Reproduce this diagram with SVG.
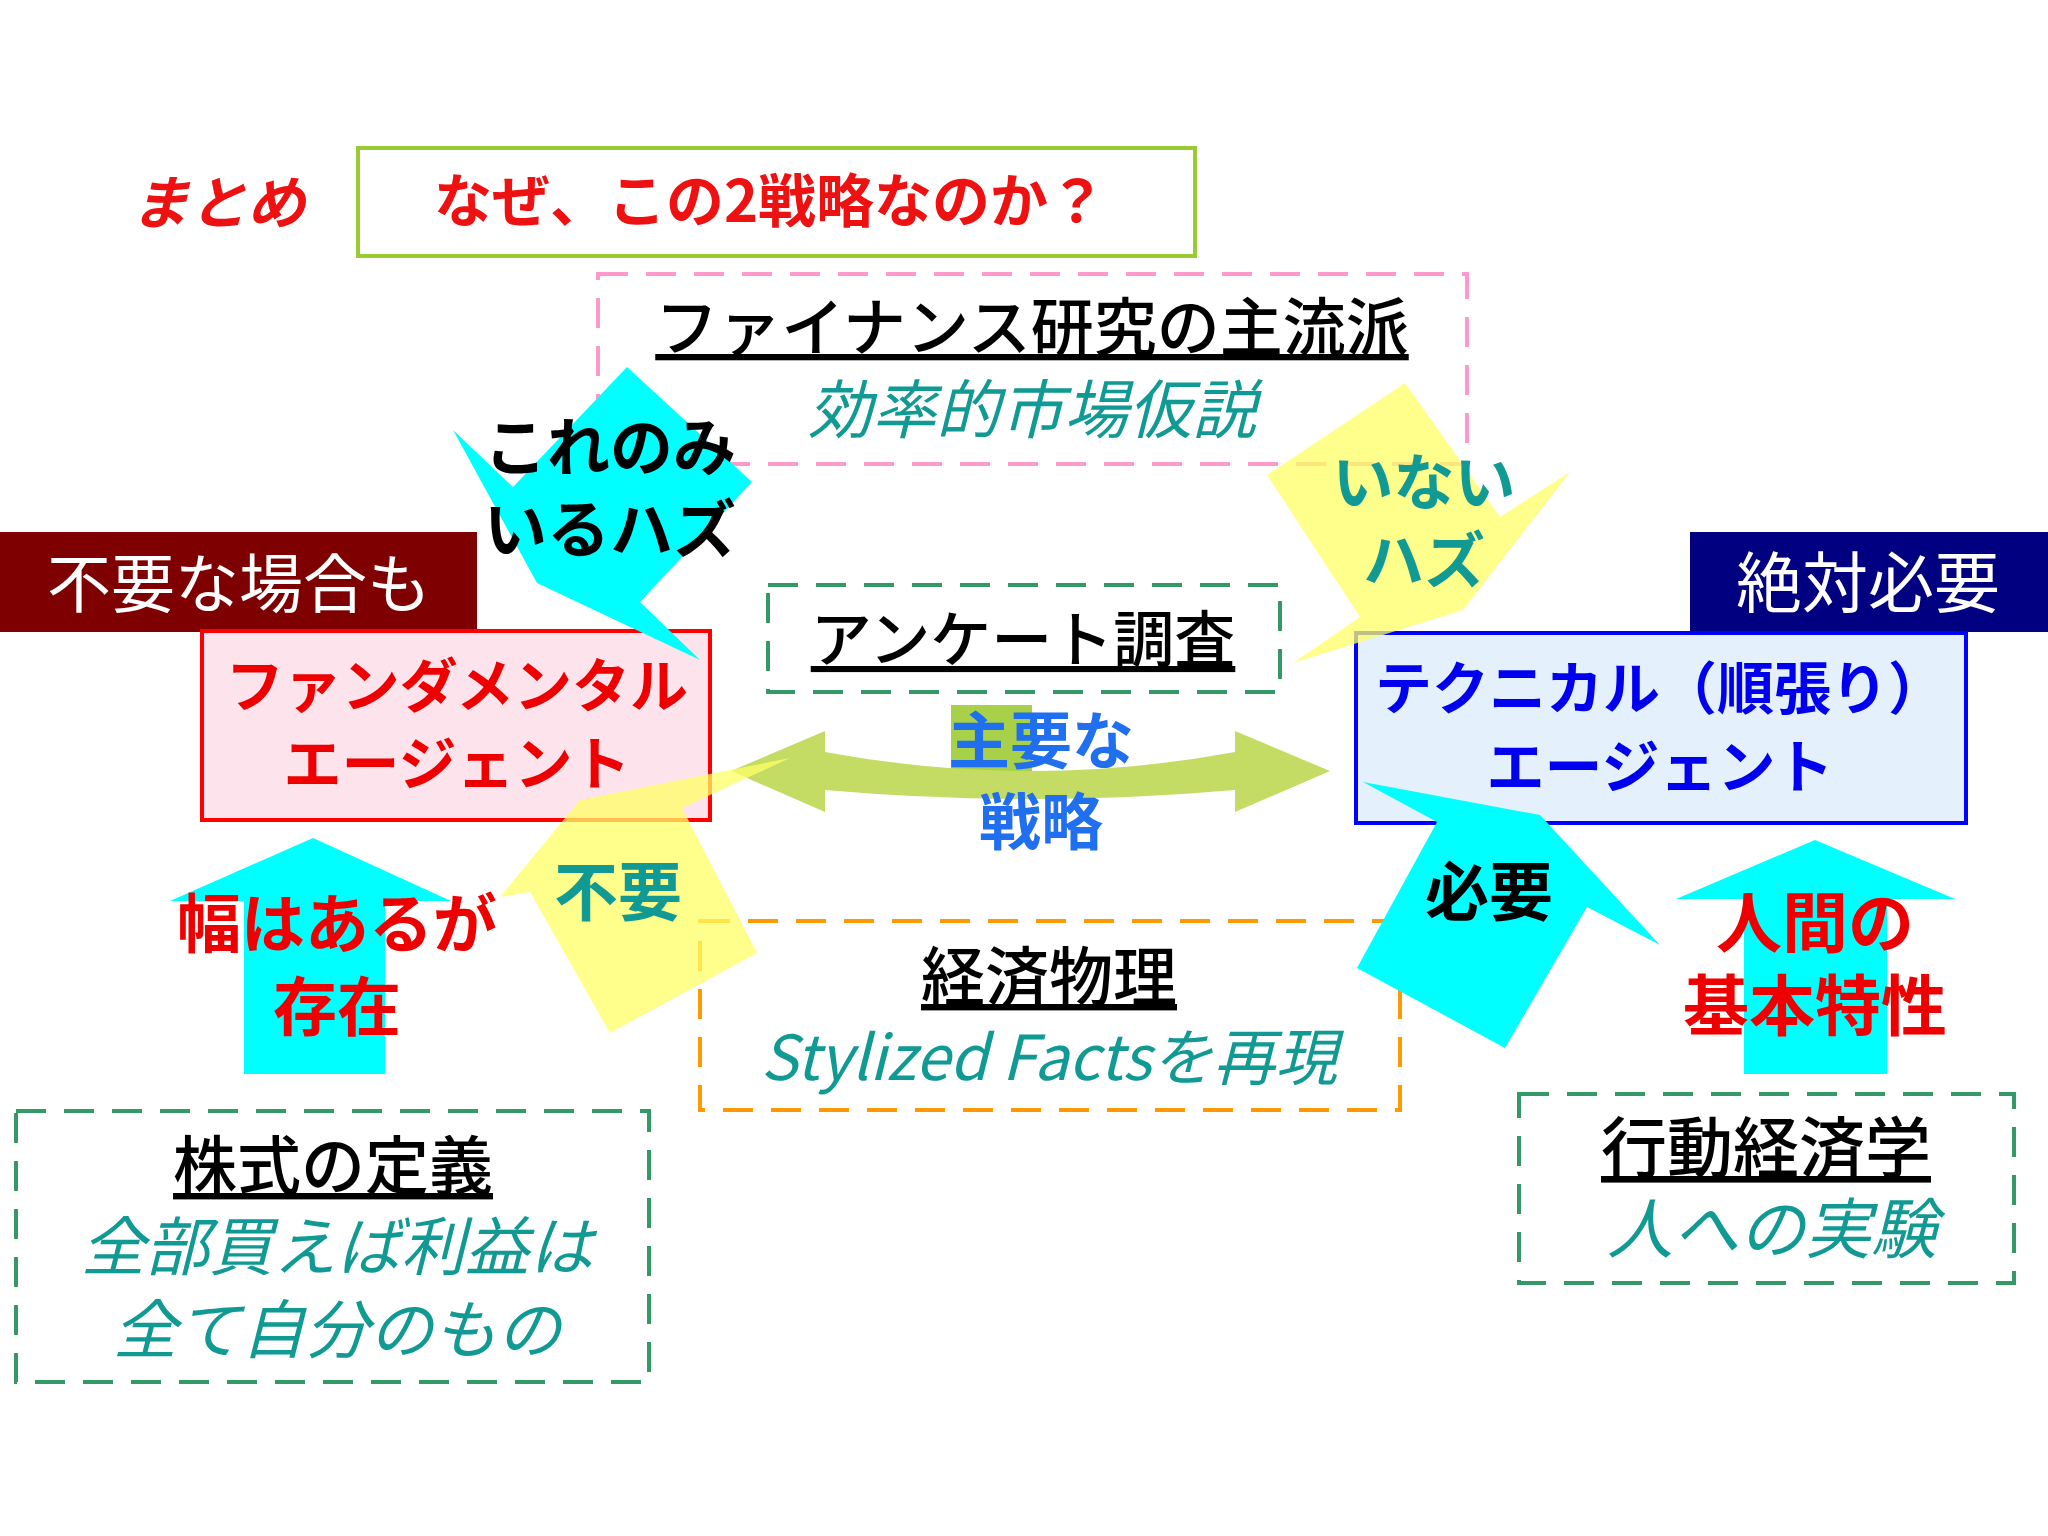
<svg xmlns="http://www.w3.org/2000/svg" width="2048" height="1536" viewBox="0 0 2048 1536">
<style>
text{font-family:"Noto Sans CJK JP","Noto Sans",sans-serif;text-anchor:middle}
.b{font-weight:bold}
.it{font-style:italic}
.u{text-decoration:underline}
.dash{fill:none;stroke-width:4;stroke-dasharray:30 18}
.teal{fill:#119a94}
</style>
<rect width="2048" height="1536" fill="#ffffff"/>
<g id="title">
<text x="218" y="224" font-size="58" class="b it" fill="#ee1111">まとめ</text>
<rect x="358" y="148" width="837" height="108" fill="none" stroke="#99cc33" stroke-width="4"/>
<text x="770" y="222" font-size="58" class="b" fill="#ee1111">なぜ、この2戦略なのか？</text>
</g>
<g id="finance">
<rect x="598" y="274" width="869" height="190" class="dash" stroke="#ff99cc"/>
<text x="1032" y="350" font-size="63" class="u" font-weight="500" fill="#000">ファイナンス研究の主流派</text>
<text x="1032" y="433" font-size="64" class="it teal">効率的市場仮説</text>
</g>
<g id="enquete">
<rect x="768" y="585" width="512" height="107" class="dash" stroke="#339966"/>
<text x="1023" y="662" font-size="61" class="u" font-weight="500" fill="#000">アンケート調査</text>
</g>
<g id="econophysics">
<rect x="700" y="921" width="700" height="189" class="dash" stroke="#ff9900"/>
<text x="1049" y="1000" font-size="64" class="u" font-weight="500" fill="#000">経済物理</text>
<text x="1049" y="1080" font-size="62" class="it teal">Stylized Factsを再現</text>
</g>
<g id="stock">
<rect x="16" y="1111" width="633" height="271" class="dash" stroke="#339966"/>
<text x="333" y="1189" font-size="64" class="u" font-weight="500" fill="#000">株式の定義</text>
<text x="337" y="1270" font-size="64" class="it teal">全部買えば利益は</text>
<text x="337" y="1353" font-size="64" class="it teal">全て自分のもの</text>
</g>
<g id="behavioral">
<rect x="1519" y="1094" width="495" height="189" class="dash" stroke="#339966"/>
<text x="1766" y="1172" font-size="66" class="u" font-weight="500" fill="#000">行動経済学</text>
<text x="1772" y="1253" font-size="66" class="it teal">人への実験</text>
</g>
<g id="fundamental">
<rect x="0" y="532" width="477" height="100" fill="#7f0000"/>
<text x="239" y="607" font-size="64" fill="#fff">不要な場合も</text>
<rect x="202" y="631" width="508" height="189" fill="#fde4ec" stroke="#ff0000" stroke-width="4"/>
<text x="457" y="707" font-size="58" class="b" fill="#ee0000">ファンダメンタル</text>
<text x="457" y="785" font-size="58" class="b" fill="#ee0000">エージェント</text>
</g>
<g id="technical">
<rect x="1690" y="532" width="358" height="100" fill="#000080"/>
<text x="1868" y="607" font-size="66" fill="#fff">絶対必要</text>
<rect x="1356" y="633" width="610" height="190" fill="#e4f0fb" stroke="#0000ff" stroke-width="4"/>
<text x="1660" y="709" font-size="57" class="b" fill="#0000ee">テクニカル（順張り）</text>
<text x="1660" y="788" font-size="58" class="b" fill="#0000ee">エージェント</text>
</g>
<g id="connectors">
<rect x="951" y="705" width="81" height="68" fill="#a8d048"/>
<path d="M731,771 L825,731 L825,752 Q1030,790 1235,752 L1235,731 L1330,771 L1235,812 L1235,790 Q1030,808 825,790 L825,812 Z" fill="#c4dc64"/>
<polygon points="313,838 451,901 385,901 385,1074 244,1074 244,901 170,901" fill="#00ffff"/>
<polygon points="1815,840 1955,899 1887,899 1887,1074 1744,1074 1744,899 1676,899" fill="#00ffff"/>
<polygon points="627,367 752,482 640,602 700,660 537,583 453,430 513,487" fill="#00ffff"/>
<polygon points="1405,383 1500,517 1570,472 1463,610 1293,663 1360,617 1267,475" fill="#ffff66" fill-opacity="0.75"/>
<polygon points="500,897 580,800 790,758 682,808 757,953 610,1033 530,892" fill="#ffff66" fill-opacity="0.75"/>
<polygon points="1363,782 1540,815 1660,945 1587,907 1505,1048 1357,968 1437,822" fill="#00ffff"/>
</g>
<g id="labels">
<text x="1041" y="764" font-size="62" class="b" fill="#1f6fee">主要な</text>
<text x="1041" y="845" font-size="62" class="b" fill="#1f6fee">戦略</text>
<text x="610" y="470" font-size="63" class="b" fill="#000">これのみ</text>
<text x="610" y="552" font-size="63" class="b" fill="#000">いるハズ</text>
<text x="1424" y="505" font-size="61" class="b teal">いない</text>
<text x="1424" y="583" font-size="61" class="b teal">ハズ</text>
<text x="618" y="915" font-size="64" class="b teal">不要</text>
<text x="1489" y="915" font-size="64" class="b" fill="#000">必要</text>
<text x="337" y="947" font-size="64" class="b" fill="#ee0000">幅はあるが</text>
<text x="337" y="1030" font-size="64" class="b" fill="#ee0000">存在</text>
<text x="1815" y="947" font-size="66" class="b" fill="#ee0000">人間の</text>
<text x="1815" y="1030" font-size="66" class="b" fill="#ee0000">基本特性</text>
</g>
</svg>
